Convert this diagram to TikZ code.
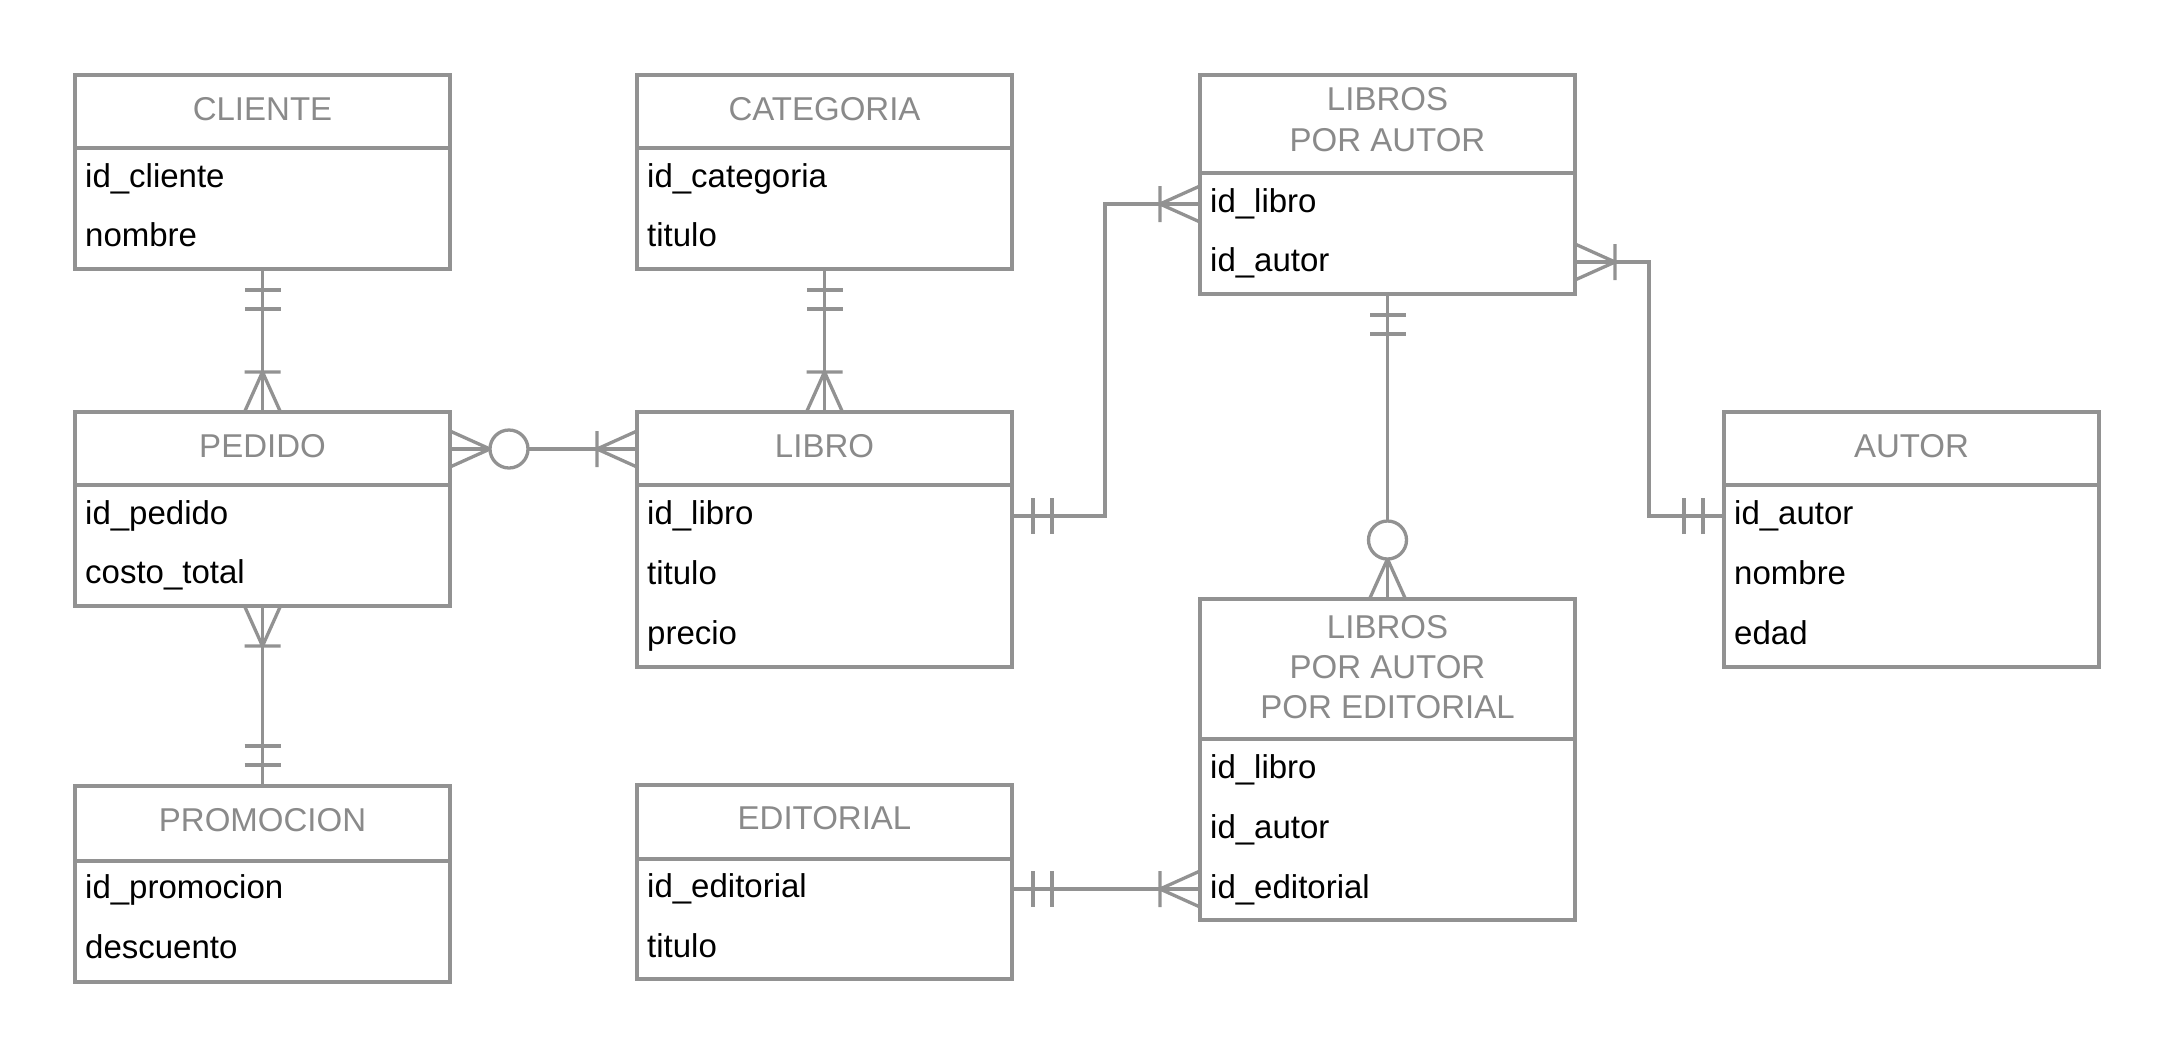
\documentclass[tikz,border=0pt]{standalone}
\usepackage{fontspec}
\setmainfont{Liberation Sans}
\definecolor{lg}{RGB}{146,146,146}
\definecolor{tg}{RGB}{138,138,138}
\tikzset{
 ebox/.style={draw=lg, line width=3.4pt, minimum width=375pt, anchor=north west, outer sep=0pt, inner sep=0pt, fill=white},
 hline/.style={draw=lg, line width=3.4pt},
 conn/.style={draw=lg, line width=3.3pt},
 ttl/.style={text=tg, font=\fontsize{33}{40}\selectfont, anchor=base, inner sep=0pt},
 fld/.style={text=black, font=\fontsize{33}{40}\selectfont, anchor=base west, inner sep=0pt},
 pics/mone/.style={code={\draw[conn] (21,-18)--(21,18) (40,-18)--(40,18);}},
 pics/onemany/.style={code={\draw[conn] (40,-18)--(40,18) (0,-18)--(40,0)--(0,18);}},
 pics/zeromany/.style={code={\draw[conn] (0,-18)--(40,0)--(0,18); \draw[conn, fill=white] (59,0) circle[radius=19pt];}},
}
\begin{document}
\begin{tikzpicture}[x=1pt,y=-1pt]
\fill[white] (0,0) rectangle (2175,1058);
\useasboundingbox (0,0) rectangle (2175,1058);

% CLIENTE
\node[ebox, minimum height=194pt] (cliente) at (75,75) {};
\draw[hline] (cliente.west |- 0,148) -- (cliente.east |- 0,148);
\node[ttl] (cliente-t) at (262.5,120) {CLIENTE};
\node[fld] (cliente-f1) at (85,187) {id\_cliente};
\node[fld] (cliente-f2) at (85,246) {nombre};

% CATEGORIA
\node[ebox, minimum height=194pt] (categoria) at (637,75) {};
\draw[hline] (categoria.west |- 0,148) -- (categoria.east |- 0,148);
\node[ttl] (categoria-t) at (824.5,120) {CATEGORIA};
\node[fld] (categoria-f1) at (647,187) {id\_categoria};
\node[fld] (categoria-f2) at (647,246) {titulo};

% LIBROS POR AUTOR
\node[ebox, minimum height=219pt] (lpa) at (1200,75) {};
\draw[hline] (lpa.west |- 0,173) -- (lpa.east |- 0,173);
\node[ttl] (lpa-t1) at (1387.5,110) {LIBROS};
\node[ttl] (lpa-t2) at (1387.5,151) {POR AUTOR};
\node[fld] (lpa-f1) at (1210,212) {id\_libro};
\node[fld] (lpa-f2) at (1210,271) {id\_autor};

% PEDIDO
\node[ebox, minimum height=194pt] (pedido) at (75,412) {};
\draw[hline] (pedido.west |- 0,485) -- (pedido.east |- 0,485);
\node[ttl] (pedido-t) at (262.5,457) {PEDIDO};
\node[fld] (pedido-f1) at (85,524) {id\_pedido};
\node[fld] (pedido-f2) at (85,583) {costo\_total};

% LIBRO
\node[ebox, minimum height=255pt] (libro) at (637,412) {};
\draw[hline] (libro.west |- 0,485) -- (libro.east |- 0,485);
\node[ttl] (libro-t) at (824.5,457) {LIBRO};
\node[fld] (libro-f1) at (647,524) {id\_libro};
\node[fld] (libro-f2) at (647,584) {titulo};
\node[fld] (libro-f3) at (647,644) {precio};

% AUTOR
\node[ebox, minimum height=255pt] (autor) at (1724,412) {};
\draw[hline] (autor.west |- 0,485) -- (autor.east |- 0,485);
\node[ttl] (autor-t) at (1911.5,457) {AUTOR};
\node[fld] (autor-f1) at (1734,524) {id\_autor};
\node[fld] (autor-f2) at (1734,584) {nombre};
\node[fld] (autor-f3) at (1734,644) {edad};

% LIBROS POR AUTOR POR EDITORIAL
\node[ebox, minimum height=321pt] (lpape) at (1200,599) {};
\draw[hline] (lpape.west |- 0,739) -- (lpape.east |- 0,739);
\node[ttl] (lpape-t1) at (1387.5,638) {LIBROS};
\node[ttl] (lpape-t2) at (1387.5,678) {POR AUTOR};
\node[ttl] (lpape-t3) at (1387.5,718) {POR EDITORIAL};
\node[fld] (lpape-f1) at (1210,778) {id\_libro};
\node[fld] (lpape-f2) at (1210,838) {id\_autor};
\node[fld] (lpape-f3) at (1210,898) {id\_editorial};

% PROMOCION
\node[ebox, minimum height=196pt] (promocion) at (75,786) {};
\draw[hline] (promocion.west |- 0,861) -- (promocion.east |- 0,861);
\node[ttl] (promocion-t) at (262.5,831) {PROMOCION};
\node[fld] (promocion-f1) at (85,898) {id\_promocion};
\node[fld] (promocion-f2) at (85,958) {descuento};

% EDITORIAL
\node[ebox, minimum height=194pt] (editorial) at (637,785) {};
\draw[hline] (editorial.west |- 0,859) -- (editorial.east |- 0,859);
\node[ttl] (editorial-t) at (824.5,829) {EDITORIAL};
\node[fld] (editorial-f1) at (647,897) {id\_editorial};
\node[fld] (editorial-f2) at (647,957) {titulo};

% Connectors
\draw[conn] (cliente.south) -- (pedido.north);
\pic[rotate=-90] at (cliente.south) {mone};
\pic[rotate=90] at (pedido.north) {onemany};

\draw[conn] (categoria.south) -- (libro.north);
\pic[rotate=-90] at (categoria.south) {mone};
\pic[rotate=90] at (libro.north) {onemany};

\draw[conn] (pedido.south) -- (promocion.north);
\pic[rotate=-90] at (pedido.south) {onemany};
\pic[rotate=90] at (promocion.north) {mone};

\draw[conn] (pedido.east |- 0,449) -- (libro.west |- 0,449);
\pic at (pedido.east |- 0,449) {zeromany};
\pic[rotate=180] at (libro.west |- 0,449) {onemany};

\draw[conn] (libro.east |- 0,516) -| (1105,204) -- (lpa.west |- 0,204);
\pic at (libro.east |- 0,516) {mone};
\pic[rotate=180] at (lpa.west |- 0,204) {onemany};

\draw[conn] (autor.west |- 0,516) -| (1649,262) -- (lpa.east |- 0,262);
\pic[rotate=180] at (autor.west |- 0,516) {mone};
\pic at (lpa.east |- 0,262) {onemany};

\draw[conn] (lpa.south) -- (lpape.north);
\pic[rotate=-90] at (lpa.south) {mone};
\pic[rotate=90] at (lpape.north) {zeromany};

\draw[conn] (editorial.east |- 0,889) -- (lpape.west |- 0,889);
\pic at (editorial.east |- 0,889) {mone};
\pic[rotate=180] at (lpape.west |- 0,889) {onemany};
\end{tikzpicture}
\end{document}
